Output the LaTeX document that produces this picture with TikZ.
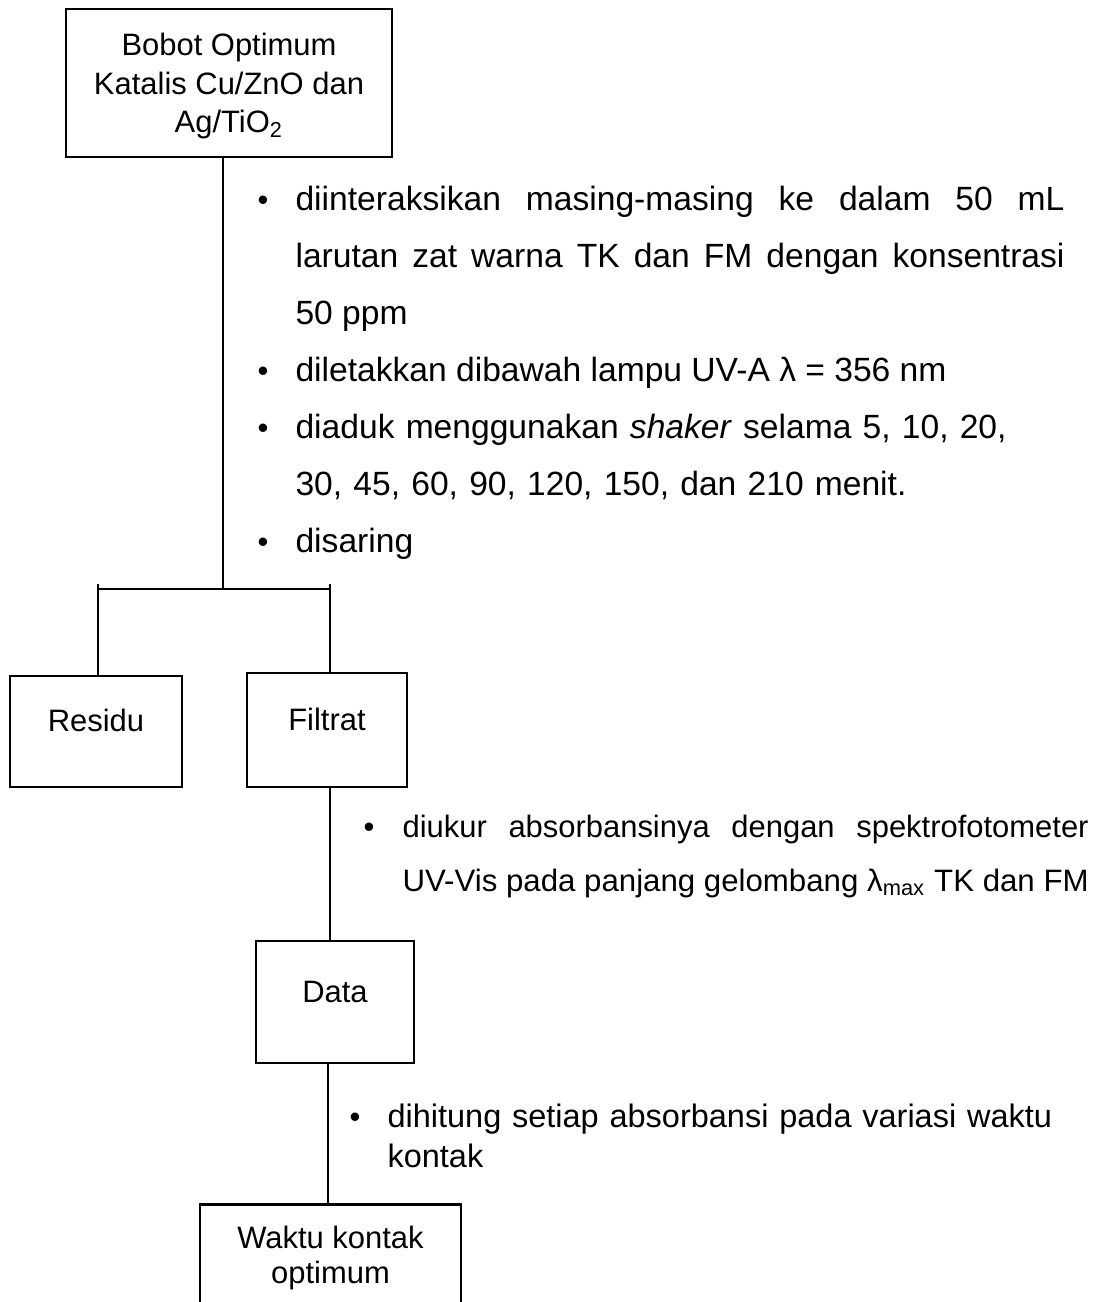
\documentclass[tikz,border=0pt]{standalone}
\usepackage{fontspec}
\setmainfont{Liberation Sans}
\usepackage{graphicx}
\usetikzlibrary{calc}

\tikzset{
  kotak/.style={draw, line width=1pt, inner sep=0pt, align=center, font=\fontsize{11.05}{13.75}\selectfont},
  satu/.style={kotak, text height=4pt, text depth=4pt},
  garis/.style={line width=0.5pt},
  poin/.style={anchor=base, inner sep=0pt, font=\fontsize{11.05}{13}\selectfont},
  uraian/.style={anchor=base west, inner sep=0pt, align=justify, font=\fontsize{12}{20.36}\selectfont}
}

\begin{document}
\begin{tikzpicture}[x=0.3571pt, y=-0.3571pt]
			%%%%% START %%%%%
			\useasboundingbox (0,0) rectangle (1094,1302);
			\clip (0,0) rectangle (1094,1302);
			
			% kotak-kotak
			\node[kotak, minimum width=116.4pt, minimum height=52.9pt, text depth=-1pt] (bobot) at (229,83) {Bobot Optimum\\Katalis Cu/ZnO dan\\Ag/TiO\textsubscript{2}};
			\node[satu, minimum width=61.4pt, minimum height=39.6pt] (residu) at (96,731.5) {Residu};
			\node[satu, minimum width=57.1pt, minimum height=40.7pt] (filtrat) at (327,730) {Filtrat};
			\node[satu, minimum width=56.4pt, minimum height=43.6pt] (data) at (335,1002) {Data};
			\node[kotak, anchor=north, minimum width=93.2pt, inner ysep=7.9pt, font=\fontsize{11.05}{12.5}\selectfont] (waktu) at (330.5,1203) {Waktu kontak\\optimum};
			
			% titik bantu
			\coordinate (pisah) at (223,589);
			\coordinate (kiri) at (98,584);
			\coordinate (kanan) at (330,584);
			\coordinate (turun) at (328,1100);
			
			\draw[garis] (bobot.south -| pisah) -- (pisah);
			\draw[garis] (pisah -| kiri) -- (pisah -| kanan);
			\draw[garis] (kiri) -- (residu.north -| kiri);
			\draw[garis] (kanan) -- (filtrat.north -| kanan);
			\draw[garis] (filtrat.south -| kanan) -- (data.north -| kanan);
			\draw[garis] (data.south -| turun) -- (waktu.north -| turun);
			
			% keterangan 1
			\node[poin] (b1) at (263,210) {•};
			\node[uraian, text width=274.6pt] (t1) at (295,210) {diinteraksikan masing-masing ke dalam 50 mL\linebreak larutan zat warna TK dan FM dengan konsentrasi\linebreak 50 ppm};
			\node[poin] (b2) at (263,381) {•};
			\node[uraian, text width=274.6pt] (t2) at (295,381) {diletakkan dibawah lampu UV-A λ = 356 nm};
			\node[poin] (b3) at (263,438) {•};
			\node[uraian, text width=274.6pt, align=left] (t3) at (295,438) {diaduk menggunakan \textit{shaker} selama 5, 10, 20,\\30, 45, 60, 90, 120, 150, dan 210 menit.};
			\node[poin] (b4) at (263,552) {•};
			\node[uraian, text width=274.6pt] (t4) at (295,552) {disaring};
			
			% keterangan 2
			\node[poin] (b5) at (369,837) {•};
			\node[uraian, text width=245pt, font=\fontsize{11.05}{19.3}\selectfont] (t5) at (402,837) {diukur absorbansinya dengan spektrofotometer\linebreak \resizebox{\linewidth}{\height}{UV-Vis pada panjang gelombang λ\textsubscript{max} TK dan FM}};
			
			% keterangan 3
			\node[poin] (b6) at (355,1127) {•};
			\node[uraian, text width=250pt, align=left, font=\fontsize{11.6}{14.3}\selectfont] (t6) at (387,1127) {dihitung setiap absorbansi pada variasi waktu\\kontak};
			
			%%%%% END %%%%%
\end{tikzpicture}
\end{document}
